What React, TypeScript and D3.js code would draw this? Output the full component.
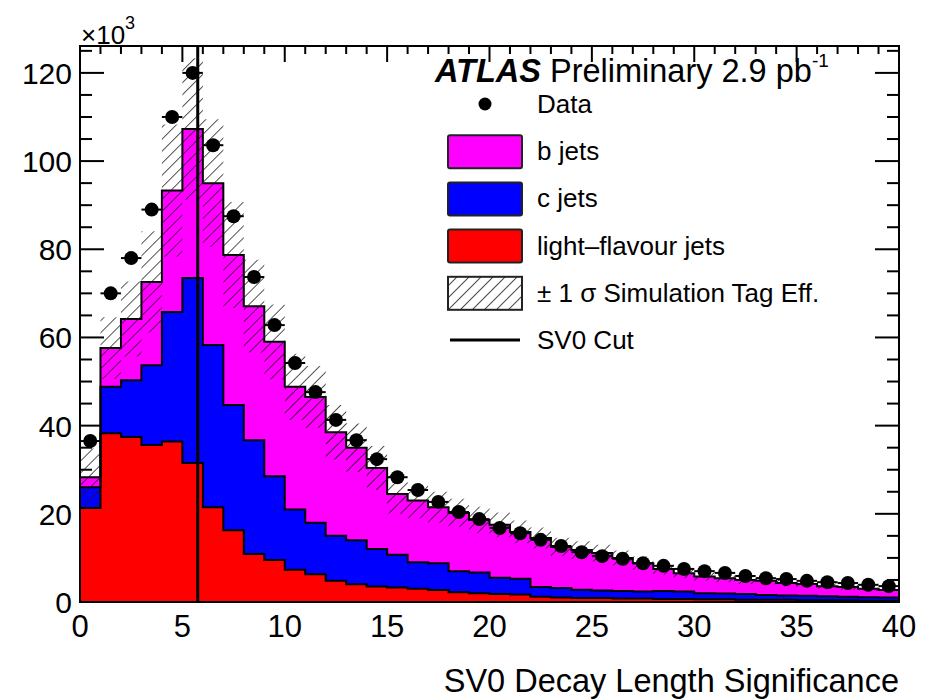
import React from "react";
import * as d3 from "d3";

// SV0 decay length significance, bins of width 1 from 0 to 40 (counts in units of 10^3)
const binLow = d3.range(0, 40);

const dataCounts = [
  36.5, 70.0, 78.0, 89.0, 110.0, 120.0, 103.6, 87.5, 73.7, 62.8,
  54.2, 47.6, 41.3, 36.7, 32.4, 28.3, 25.4, 22.7, 20.4, 18.8,
  16.8, 15.6, 14.1, 12.7, 11.3, 10.4, 9.8, 8.8, 8.2, 7.5,
  7.0, 6.6, 5.9, 5.4, 5.2, 4.8, 4.5, 4.3, 3.9, 3.6,
];

const lightJets = [
  21.3, 38.3, 37.4, 35.6, 36.4, 31.5, 21.5, 16.3, 10.9, 9.5,
  7.3, 6.3, 4.8, 4.0, 3.5, 3.3, 3.0, 2.7, 2.2, 2.0,
  1.8, 1.7, 1.2, 1.0, 0.9, 0.9, 0.8, 0.8, 0.7, 0.7,
  0.6, 0.6, 0.5, 0.5, 0.5, 0.4, 0.4, 0.4, 0.3, 0.3,
];

const cJets = [
  4.7, 10.5, 12.9, 18.1, 29.4, 42.0, 36.8, 28.4, 25.8, 19.0,
  13.7, 11.7, 10.2, 10.0, 8.5, 7.4, 6.0, 6.1, 4.8, 4.7,
  3.7, 3.6, 2.2, 2.2, 1.9, 1.7, 1.7, 1.6, 1.8, 1.7,
  1.4, 1.3, 1.3, 1.1, 1.0, 1.0, 0.9, 0.8, 0.8, 0.7,
];

const bJets = [
  2.3, 8.8, 13.9, 18.9, 27.5, 33.8, 36.7, 34.0, 30.4, 30.5,
  27.8, 28.5, 23.5, 21.0, 18.4, 13.8, 14.0, 12.7, 13.2, 11.9,
  12.0, 10.6, 11.1, 9.3, 9.0, 8.5, 7.5, 6.4, 5.0, 4.1,
  3.8, 3.5, 3.2, 3.2, 2.8, 2.7, 2.3, 2.2, 1.9, 1.7,
];

// ±1σ simulation tag-efficiency uncertainty on the total prediction
const tagEffErr = [
  6.5, 7.0, 8.5, 11.5, 15.0, 16.0, 14.5, 12.0, 10.5, 8.5,
  7.5, 7.0, 6.2, 5.5, 5.0, 4.5, 4.0, 3.5, 3.2, 3.0,
  2.8, 2.6, 2.4, 2.1, 2.0, 1.9, 1.7, 1.5, 1.3, 1.1,
  1.0, 0.9, 0.9, 0.8, 0.8, 0.7, 0.6, 0.6, 0.5, 0.5,
];

const sv0Cut = 5.75;

const xTickLabels = [0, 5, 10, 15, 20, 25, 30, 35, 40];
const yTickLabels = [0, 20, 40, 60, 80, 100, 120];

const legendItems = [
  { kind: "dot", label: "Data" },
  { kind: "box", label: "b jets", fill: "#ff00ff" },
  { kind: "box", label: "c jets", fill: "#0000ff" },
  { kind: "box", label: "light\u2013flavour jets", fill: "#ff0000" },
  { kind: "hatch", label: "\u00b1 1 \u03c3 Simulation Tag Eff." },
  { kind: "line", label: "SV0 Cut" },
];

const W = 935;
const H = 700;
const FONT = "'Liberation Sans', Arial, Helvetica, sans-serif";

export default function App() {
  const x = d3.scaleLinear().domain([0, 40]).range([80, 899]);
  const y = d3.scaleLinear().domain([0, 126.1]).range([602, 46]);

  const n = binLow.length;
  const edges = [...binLow, 40];
  const ext = (a: number[]) => [...a, a[a.length - 1]];

  const red = lightJets;
  const blue = lightJets.map((v, i) => v + cJets[i]);
  const total = blue.map((v, i) => v + bJets[i]);
  const errLo = total.map((v, i) => Math.max(0, v - tagEffErr[i]));
  const errHi = total.map((v, i) => v + tagEffErr[i]);

  const area = (lo: number[], hi: number[]) =>
    d3
      .area<number>()
      .curve(d3.curveStepAfter)
      .x((d) => x(d))
      .y0((_, i) => y(ext(lo)[i]))
      .y1((_, i) => y(ext(hi)[i]))(edges) as string;

  const zeros = new Array(n).fill(0);

  const outline = (vals: number[]) => {
    const e = ext(vals);
    const pts: [number, number][] = [[x(0), y(0)]];
    edges.forEach((ed, i) => pts.push([x(ed), y(e[i])]));
    pts.push([x(40), y(0)]);
    return d3.line().curve(d3.curveStepAfter)(pts) as string;
  };

  const yMinor = d3.range(0, 126, 5);
  const xMinor = d3.range(0, 41, 1);

  const [x0, x1] = x.range();
  const [yb, yt] = y.range();

  const legX = 448;
  const legTextX = 537;
  const legY0 = 104;
  const legDy = 47.2;

  return (
    <svg
      width={W}
      height={H}
      style={{ position: "absolute", left: 0, top: 0, background: "#fff" }}
      fontFamily={FONT}
    >
      <defs>
        <pattern
          id="hatch"
          patternUnits="userSpaceOnUse"
          width={8.5}
          height={8.5}
          patternTransform="rotate(45)"
        >
          <line x1={0} y1={0} x2={0} y2={8.5} stroke="#1a1a1a" strokeWidth={1.5} />
        </pattern>
      </defs>

      {/* axis ticks (drawn beneath the histograms) */}
      <g stroke="#000" strokeWidth={2}>
        {yMinor.map((v) => {
          const major = v % 20 === 0;
          const len = major ? 24 : 12;
          return (
            <g key={"yt" + v}>
              <line x1={x0} x2={x0 + len} y1={y(v)} y2={y(v)} />
              <line x1={x1} x2={x1 - len} y1={y(v)} y2={y(v)} />
            </g>
          );
        })}
        {xMinor.map((v) => {
          const major = v % 5 === 0;
          const len = major ? 16 : 8;
          return (
            <g key={"xt" + v}>
              <line x1={x(v)} x2={x(v)} y1={yb} y2={yb - len} />
              <line x1={x(v)} x2={x(v)} y1={yt} y2={yt + len} />
            </g>
          );
        })}
      </g>

      {/* stacked flavour components */}
      <path d={area(zeros, red)} fill="#ff0000" />
      <path d={area(red, blue)} fill="#0000ff" />
      <path d={area(blue, total)} fill="#ff00ff" />
      <path d={outline(red)} fill="none" stroke="#000" strokeWidth={2} />
      <path d={outline(blue)} fill="none" stroke="#000" strokeWidth={2} />
      <path d={outline(total)} fill="none" stroke="#000" strokeWidth={2} />

      {/* tag-efficiency uncertainty band */}
      <path d={area(errLo, errHi)} fill="url(#hatch)" />

      {/* SV0 cut */}
      <line x1={x(sv0Cut)} x2={x(sv0Cut)} y1={yb} y2={yt} stroke="#000" strokeWidth={3} />

      {/* data */}
      <g>
        {dataCounts.map((v, i) => (
          <g key={"d" + i}>
            <line
              x1={x(binLow[i])}
              x2={x(binLow[i] + 1)}
              y1={y(v)}
              y2={y(v)}
              stroke="#000"
              strokeWidth={2}
            />
            <circle cx={x(binLow[i] + 0.5)} cy={y(v)} r={7} fill="#000" />
          </g>
        ))}
      </g>

      {/* frame */}
      <rect x={x0} y={yt} width={x1 - x0} height={yb - yt} fill="none" stroke="#000" strokeWidth={2} />

      {/* tick labels */}
      <g fontSize={30} fill="#000">
        {yTickLabels.map((v) => (
          <text key={"yl" + v} x={72} y={y(v) + 11} textAnchor="end">
            {v}
          </text>
        ))}
        {xTickLabels.map((v) => (
          <text key={"xl" + v} x={x(v)} y={637} textAnchor="middle" fontSize={31}>
            {v}
          </text>
        ))}
      </g>

      {/* axis multiplier */}
      <text x={81} y={44} fontSize={26}>
        ×10
        <tspan fontSize={18} dy={-15}>
          3
        </tspan>
      </text>

      {/* x-axis title */}
      <text x={899} y={692} textAnchor="end" fontSize={32.5}>
        SV0 Decay Length Significance
      </text>

      {/* header */}
      <text x={435} y={82} fontSize={32.5}>
        <tspan fontWeight="bold" fontStyle="italic">
          ATLAS
        </tspan>
        <tspan> Preliminary 2.9 pb</tspan>
        <tspan fontSize={19} dy={-15}>
          -1
        </tspan>
      </text>

      {/* legend */}
      <g fontSize={26}>
        {legendItems.map((it, i) => {
          const cy = legY0 + i * legDy;
          return (
            <g key={"lg" + i}>
              {it.kind === "dot" && <circle cx={485} cy={cy} r={6.5} fill="#000" />}
              {it.kind === "box" && (
                <rect
                  x={legX}
                  y={cy - 16}
                  width={74}
                  height={33}
                  rx={2}
                  fill={it.fill}
                  stroke="#222"
                  strokeWidth={2}
                />
              )}
              {it.kind === "hatch" && (
                <rect
                  x={legX}
                  y={cy - 16}
                  width={74}
                  height={33}
                  fill="url(#hatch)"
                  stroke="#222"
                  strokeWidth={2}
                />
              )}
              {it.kind === "line" && (
                <line x1={450} x2={520} y1={cy} y2={cy} stroke="#000" strokeWidth={3} />
              )}
              <text x={legTextX} y={cy + 9}>
                {it.label}
              </text>
            </g>
          );
        })}
      </g>
    </svg>
  );
}
